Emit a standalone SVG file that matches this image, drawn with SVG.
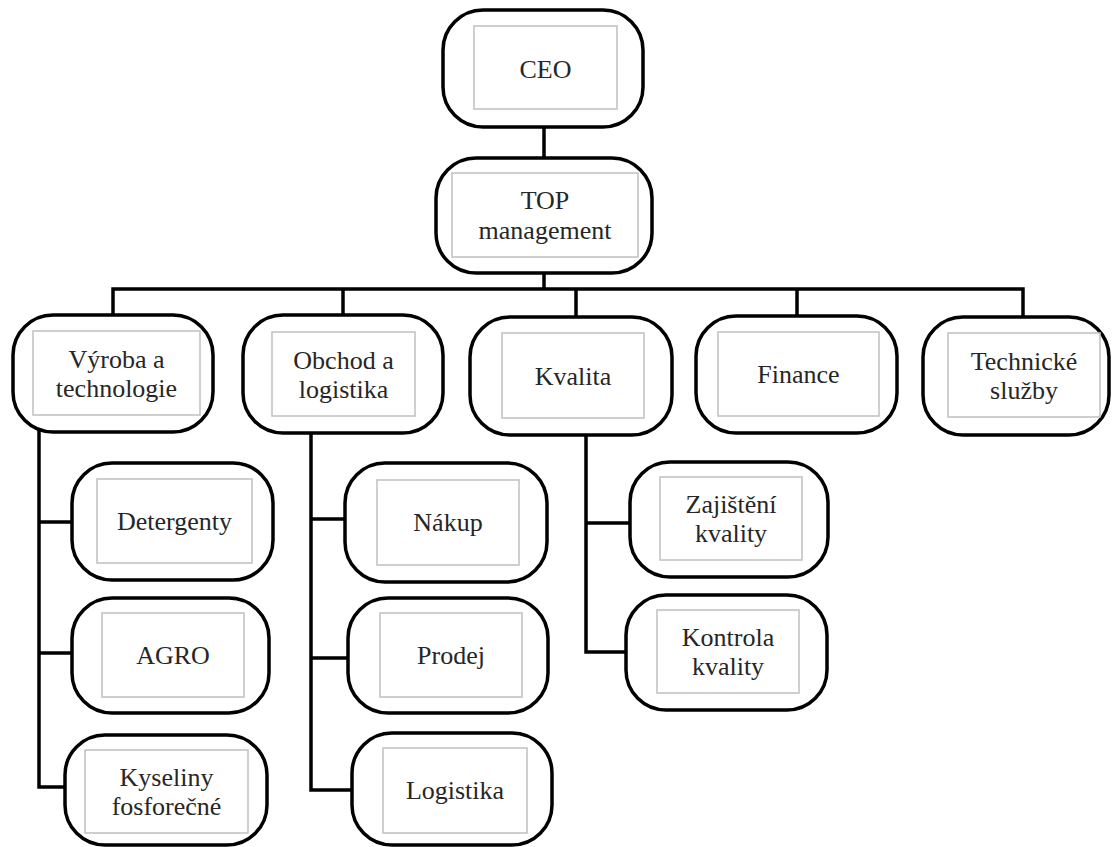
<svg xmlns="http://www.w3.org/2000/svg" width="1114" height="847" viewBox="0 0 1114 847">
<style>
.o{fill:#fff;stroke:#000;stroke-width:3.5}
.i{fill:none;stroke:#c4c4c4;stroke-width:1.6}
text{font-family:'Liberation Serif','Times New Roman','DejaVu Serif',serif;font-size:26px;fill:#262626;text-anchor:middle}
.c{fill:none;stroke:#000;stroke-width:3.5;stroke-linejoin:miter;stroke-linecap:square}
</style>
<rect width="1114" height="847" fill="#fff"/>
<g id="connectors">
<path class="c" d="M544 127V158M544 273V289M113 289H1023M113 289V316M343 289V316M576 289V317M797 289V316M1023 289V317"/>
<path class="c" d="M39 432V787H65M39 522H72M39 653H72"/>
<path class="c" d="M311 433V790H352M311 519H345M311 658H348"/>
<path class="c" d="M586 435V652H626M586 523H630"/>
</g>
<g id="ceo"><rect class="o" x="443" y="10" width="200" height="117" rx="40"/><rect class="i" x="474" y="26" width="143" height="83"/><text x="545.5" y="78">CEO</text></g>
<g id="top"><rect class="o" x="436" y="158" width="216" height="115" rx="40"/><rect class="i" x="452" y="173" width="186" height="84"/><text x="545" y="209">TOP</text><text x="545" y="239">management</text></g>
<g id="vyroba"><rect class="o" x="13" y="315" width="200" height="117" rx="40"/><rect class="i" x="33" y="331" width="167" height="84"/><text x="116.5" y="368">Výroba a</text><text x="116.5" y="397">technologie</text></g>
<g id="obchod"><rect class="o" x="243" y="315" width="200" height="118" rx="40"/><rect class="i" x="272" y="332" width="143" height="84"/><text x="343.5" y="369">Obchod a</text><text x="343.5" y="398">logistika</text></g>
<g id="kvalita"><rect class="o" x="470" y="317" width="202" height="118" rx="40"/><rect class="i" x="502" y="333" width="142" height="85"/><text x="573" y="385">Kvalita</text></g>
<g id="finance"><rect class="o" x="696" y="316" width="201" height="117" rx="40"/><rect class="i" x="718" y="332" width="161" height="84"/><text x="798.5" y="383">Finance</text></g>
<g id="technicke"><rect class="o" x="923" y="317" width="186" height="118" rx="40"/><rect class="i" x="948" y="333" width="152" height="84"/><text x="1024" y="370">Technické</text><text x="1024" y="399">služby</text></g>
<g id="detergenty"><rect class="o" x="72" y="463" width="201" height="117" rx="40"/><rect class="i" x="97" y="479" width="155" height="84"/><text x="174.5" y="530">Detergenty</text></g>
<g id="agro"><rect class="o" x="72" y="598" width="197" height="115" rx="40"/><rect class="i" x="102" y="613" width="142" height="84"/><text x="173" y="664">AGRO</text></g>
<g id="kyseliny"><rect class="o" x="65" y="735" width="202" height="110" rx="40"/><rect class="i" x="85" y="750" width="163" height="83"/><text x="166.5" y="786">Kyseliny</text><text x="166.5" y="815">fosforečné</text></g>
<g id="nakup"><rect class="o" x="345" y="463" width="202" height="119" rx="40"/><rect class="i" x="377" y="480" width="142" height="85"/><text x="448" y="531">Nákup</text></g>
<g id="prodej"><rect class="o" x="348" y="598" width="200" height="115" rx="40"/><rect class="i" x="380" y="613" width="142" height="84"/><text x="451" y="664">Prodej</text></g>
<g id="logistika"><rect class="o" x="352" y="733" width="200" height="112" rx="40"/><rect class="i" x="383" y="748" width="144" height="85"/><text x="455" y="799">Logistika</text></g>
<g id="zajisteni"><rect class="o" x="630" y="462" width="198" height="115" rx="40"/><rect class="i" x="660" y="477" width="142" height="83"/><text x="731" y="513">Zajištění</text><text x="731" y="542">kvality</text></g>
<g id="kontrola"><rect class="o" x="626" y="595" width="201" height="115" rx="40"/><rect class="i" x="657" y="610" width="142" height="83"/><text x="728" y="646">Kontrola</text><text x="728" y="675">kvality</text></g>
</svg>
